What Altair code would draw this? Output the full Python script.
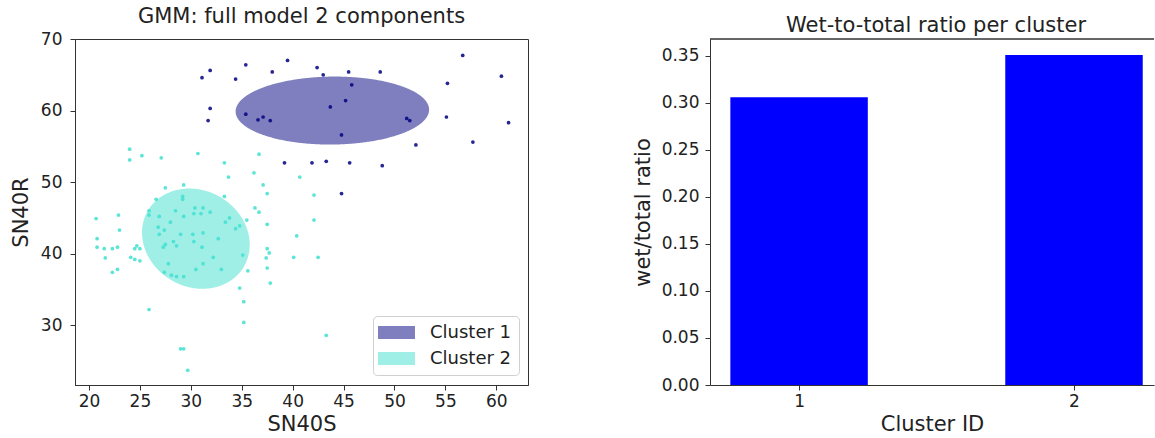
import numpy as np
import pandas as pd
import altair as alt

FONT = "DejaVu Sans"
NAVY = "#000080"
TURQ = "#40e0d0"

# --- scatter data: SN40S (x) vs SN40R (y), by assigned cluster ---
c1_x = [31.1, 31.9, 35.4, 34.4, 38.0, 39.5, 31.9, 31.7, 35.4, 36.6, 37.1, 37.8, 39.2,
        42.4, 43.0, 45.5, 48.6, 56.7, 60.5, 55.2, 45.8, 45.2, 43.7, 51.2, 51.5, 55.1,
        61.2, 44.8, 52.1, 57.7, 41.9, 43.3, 45.6, 48.8, 44.8]
c1_y = [64.6, 65.6, 66.4, 64.4, 65.4, 67.0, 60.3, 58.6, 59.5, 58.7, 59.1, 58.6, 52.7,
        66.0, 65.0, 65.4, 65.4, 67.7, 64.8, 63.8, 63.6, 61.4, 60.5, 58.9, 58.6, 59.1,
        58.3, 56.6, 55.2, 55.6, 52.7, 52.9, 52.7, 52.3, 48.4]

c2_x = [24.0, 24.0, 25.2, 27.1, 30.7, 33.3, 36.7, 36.2, 33.7, 37.1, 37.5, 40.7, 27.5,
        29.3, 33.3, 26.6, 29.2, 29.2, 42.1, 42.1, 40.4, 40.1, 42.5, 43.3, 20.7, 22.9,
        23.0, 20.8, 20.8, 21.5, 22.3, 22.8, 21.6, 22.8, 22.3, 24.1, 24.5, 24.7, 25.0,
        24.5, 25.0, 25.9, 25.9, 25.9, 26.9, 26.8, 26.9, 27.4, 28.0, 28.5, 29.3, 30.4,
        30.3, 31.0, 31.2, 31.9, 29.0, 30.2, 31.2, 28.3, 28.6, 27.5, 27.3, 30.3, 31.1,
        32.7, 33.4, 33.8, 34.4, 34.8, 35.5, 36.3, 36.7, 37.5, 37.5, 37.7, 37.4, 37.5,
        37.8, 35.1, 35.6, 34.8, 35.2, 35.2, 32.2, 33.0, 31.2, 30.5, 27.8, 27.4, 28.1,
        28.6, 29.3, 29.0, 29.3, 29.7]
c2_y = [54.6, 53.1, 53.7, 53.4, 54.0, 52.7, 53.9, 51.3, 50.7, 49.6, 48.4, 50.7, 49.2,
        49.6, 48.0, 47.6, 48.0, 47.6, 48.2, 44.7, 42.5, 39.5, 39.5, 28.6, 44.9, 45.4,
        43.3, 42.1, 40.9, 40.7, 40.7, 40.9, 39.4, 37.8, 37.4, 39.5, 40.7, 41.1, 40.7,
        39.2, 39.0, 32.2, 46.0, 45.4, 45.2, 43.7, 42.7, 43.3, 44.4, 46.0, 45.2, 46.4,
        45.6, 45.6, 46.4, 45.8, 42.7, 42.7, 42.9, 41.7, 41.1, 41.3, 40.9, 41.7, 40.9,
        42.1, 44.4, 45.0, 43.5, 43.9, 44.7, 46.4, 45.8, 44.1, 40.7, 40.1, 39.4, 38.0,
        35.9, 39.8, 37.6, 35.2, 33.3, 30.4, 39.5, 37.8, 38.6, 37.8, 38.6, 37.4, 37.0,
        36.8, 36.8, 26.7, 26.7, 23.7]

# --- fitted component ellipses: centre, semi-axes, rotation (degrees) ---
clusters = ["Cluster 1", "Cluster 2"]
ell_cx = [43.9, 30.5]
ell_cy = [60.0, 42.1]
ell_a = [9.5, 5.2]
ell_b = [4.75, 7.07]
ell_angle = [1.0, 11.6]

# --- wet-to-total ratio per cluster ---
cluster_ids = [1, 2]
wet_ratio = [0.306, 0.351]


def ellipse_band(name, cx, cy, a, b, angle_deg, n=240):
    """Upper/lower boundary of a rotated ellipse as a function of x."""
    th = np.radians(angle_deg)
    rot = np.array([[np.cos(th), -np.sin(th)], [np.sin(th), np.cos(th)]])
    cov = rot @ np.diag([a ** 2, b ** 2]) @ rot.T
    inv = np.linalg.inv(cov)
    p, q, r = inv[0, 0], inv[0, 1], inv[1, 1]
    half = np.sqrt(cov[0, 0])
    dx = half * np.cos(np.linspace(np.pi, 0, n))
    disc = np.clip(q ** 2 * dx ** 2 - r * (p * dx ** 2 - 1), 0, None)
    lo = (-q * dx - np.sqrt(disc)) / r
    hi = (-q * dx + np.sqrt(disc)) / r
    return pd.DataFrame({"cluster": name, "x": cx + dx, "ylo": cy + lo, "yhi": cy + hi})


ell_df = pd.concat(
    [ellipse_band(*args) for args in zip(clusters, ell_cx, ell_cy, ell_a, ell_b, ell_angle)],
    ignore_index=True,
)
pts1 = pd.DataFrame({"x": c1_x, "y": c1_y})
pts2 = pd.DataFrame({"x": c2_x, "y": c2_y})
bars = pd.DataFrame({"cluster": cluster_ids, "ratio": wet_ratio})

W_L, H = 453, 346
W_R = 444

xs = alt.Scale(domain=[18.63, 63.11], nice=False, zero=False)
ys = alt.Scale(domain=[21.65, 70.0], nice=False, zero=False)

x_axis = alt.Axis(title="SN40S", values=list(range(20, 61, 5)), grid=False,
                  labelPadding=3, titlePadding=4)
y_axis = alt.Axis(title="SN40R", values=list(range(30, 71, 10)), grid=False,
                  labelPadding=8, titlePadding=9)

patch = "M-2,-0.7H2V0.7H-2Z"

ellipses = alt.Chart(ell_df).mark_area(opacity=0.5, clip=True).encode(
    x=alt.X("x:Q", scale=xs, axis=x_axis),
    y=alt.Y("yhi:Q", scale=ys, axis=y_axis),
    y2="ylo:Q",
    color=alt.Color(
        "cluster:N",
        scale=alt.Scale(domain=clusters, range=[NAVY, TURQ]),
        legend=alt.Legend(
            title=None,
            orient="none",
            legendX=298,
            legendY=277,
            symbolType=patch,
            symbolSize=342,
            symbolOpacity=0.5,
            symbolStrokeWidth=0,
            labelFontSize=18,
            labelFont=FONT,
            labelColor="#222222",
            labelOffset=24,
            symbolOffset=7,
            rowPadding=7,
            padding=7,
            fillColor="white",
            strokeColor="#d0d0d0",
            cornerRadius=4,
        ),
    ),
)

dots1 = alt.Chart(pts1).mark_circle(size=14, opacity=0.85, color=NAVY).encode(
    x=alt.X("x:Q", scale=xs), y=alt.Y("y:Q", scale=ys)
)
dots2 = alt.Chart(pts2).mark_circle(size=14, opacity=0.85, color=TURQ).encode(
    x=alt.X("x:Q", scale=xs), y=alt.Y("y:Q", scale=ys)
)

left = alt.layer(ellipses, dots1, dots2).properties(
    width=W_L,
    height=H,
    title="GMM: full model 2 components",
)

bar_chart = alt.Chart(bars).transform_calculate(
    x0="datum.cluster - 0.25", x1="datum.cluster + 0.25"
).mark_rect(color="#0000ff").encode(
    x=alt.X(
        "x0:Q",
        scale=alt.Scale(domain=[0.676, 2.291], nice=False, zero=False),
        axis=alt.Axis(title="Cluster ID", values=cluster_ids, format="d", grid=False,
                      labelPadding=3, titlePadding=4),
    ),
    x2="x1:Q",
    y=alt.Y(
        "ratio:Q",
        scale=alt.Scale(domain=[0, 0.368], nice=False),
        axis=alt.Axis(title="wet/total ratio", values=[i * 0.05 for i in range(8)],
                      format=".2f", grid=False, labelPadding=6, titlePadding=8),
    ),
)

top_spine = alt.Chart(bars).mark_rule(color="#333333", strokeWidth=1).encode(
    x=alt.value(0), x2=alt.value(W_R), y=alt.value(0)
)

right = alt.layer(bar_chart, top_spine).properties(
    width=W_R,
    height=H,
    title=alt.TitleParams("Wet-to-total ratio per cluster", dx=4),
    view=alt.ViewBackground(stroke="transparent"),
)

chart = alt.hconcat(left, right, spacing=102).properties(
    padding={"left": 9, "top": 5, "right": 0, "bottom": 0}
).configure_view(
    stroke="#333333", strokeWidth=1
).configure_axis(
    domainColor="#333333",
    tickColor="#333333",
    tickSize=5,
    labelFont=FONT,
    labelFontSize=17,
    labelColor="#222222",
    titleFont=FONT,
    titleFontSize=21,
    titleFontWeight="normal",
    titleColor="#222222",
).configure_title(
    font=FONT,
    fontSize=21,
    fontWeight="normal",
    color="#222222",
    offset=3,
)

chart.save("out.html", embed_options={"renderer": "svg", "actions": False})
